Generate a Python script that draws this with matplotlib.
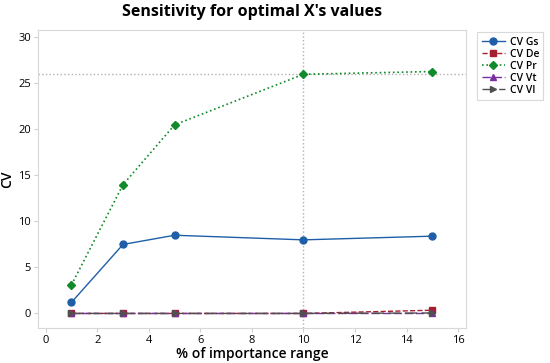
import numpy as np
import matplotlib
matplotlib.use("Agg")
import matplotlib.pyplot as plt

plt.rcParams['font.family'] = ['Open Sans', 'DejaVu Sans']

x = [1, 3, 5, 10, 15]
cv_gs = [1.2, 7.5, 8.5, 8.0, 8.4]
cv_de = [0.0, 0.0, 0.0, 0.0, 0.35]
cv_pr = [3.1, 14.0, 20.5, 26.0, 26.3]
cv_vt = [0.0, 0.0, 0.0, 0.0, 0.0]
cv_vl = [0.0, 0.0, 0.0, 0.0, 0.05]

fig = plt.figure(figsize=(5.5, 3.63), dpi=100)
ax = fig.add_axes([0.069, 0.096, 0.778, 0.821])

# reference lines
ax.axhline(26, color='#b0b0b0', ls=':', lw=1, zorder=1)
ax.axvline(10, color='#b0b0b0', ls=':', lw=1, zorder=1)

ax.plot(x, cv_gs, '-', color='#1f5fa8', marker='o', ms=5, lw=1, label='CV Gs')
ax.plot(x, cv_de, '--', color='#a4202f', marker='s', ms=5, lw=1, label='CV De')
ax.plot(x, cv_pr, ':', color='#108a2a', marker='D', ms=4.5, lw=1.2, label='CV Pr')
ax.plot(x, cv_vt, color='#7a2fa0', ls=(0, (6, 2)), marker='^', ms=5, lw=1, label='CV Vt')
ax.plot(x, cv_vl, color='#505050', ls=(0, (9, 3)), marker='>', ms=5, lw=1, label='CV Vl')

ax.set_xlim(-0.3, 16.3)
ax.set_ylim(-1.6, 30.8)
ax.set_xticks(np.arange(0, 17, 2))
ax.set_yticks(np.arange(0, 31, 5))
for s in ax.spines.values():
    s.set_color('#d8d8d8')
ax.tick_params(colors='#d0d0d0', labelcolor='black', labelsize=8, length=3, pad=2)
for lbl in ax.get_xticklabels() + ax.get_yticklabels():
    lbl.set_fontweight('medium')

ax.set_title("Sensitivity for optimal X's values", fontsize=11.5, fontweight='bold', pad=10)
ax.set_xlabel('% of importance range', fontsize=10, fontweight='semibold', labelpad=1)
ax.set_ylabel('CV', fontsize=10, fontweight='semibold', labelpad=3)

leg = ax.legend(loc='upper left', bbox_to_anchor=(1.015, 1.01), fontsize=7.5, frameon=True,
                fancybox=False, edgecolor='#d0d0d0', handlelength=2.2, borderpad=0.4,
                labelspacing=0.1, handletextpad=0.5)
leg.get_frame().set_linewidth(0.8)
for t in leg.get_texts():
    t.set_fontweight('semibold')

fig.savefig('out.png', dpi=100)
